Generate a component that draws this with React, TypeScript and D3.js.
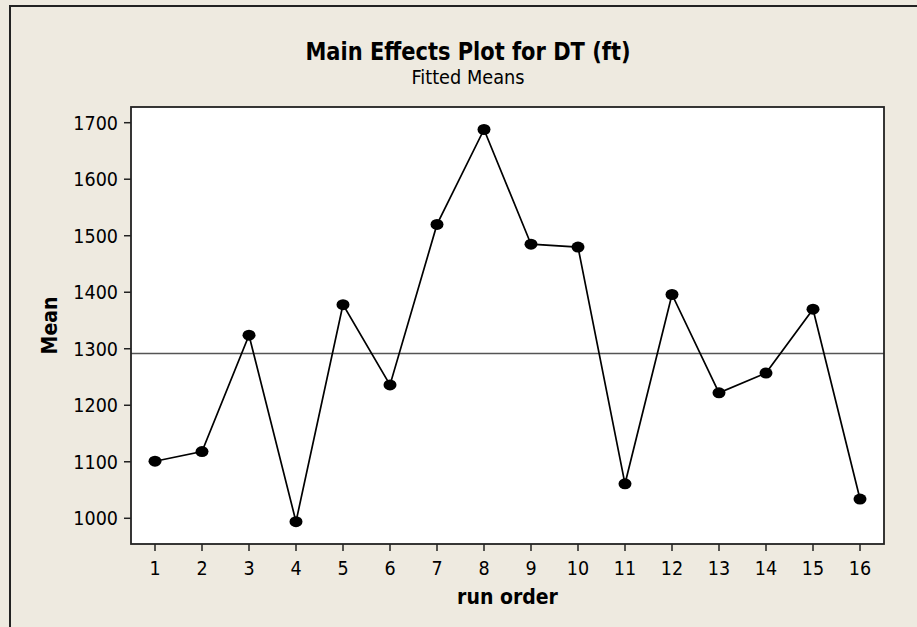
import React from "react";
import * as d3 from "d3";

const runOrder = [1, 2, 3, 4, 5, 6, 7, 8, 9, 10, 11, 12, 13, 14, 15, 16];
const fittedMeans = [1101, 1118, 1324, 994, 1378, 1236, 1520, 1688, 1485, 1480, 1061, 1396, 1222, 1257, 1370, 1034];
const yTicks = [1000, 1100, 1200, 1300, 1400, 1500, 1600, 1700];
const titleText = "Main Effects Plot for DT (ft)";
const subtitleText = "Fitted Means";
const xLabel = "run order";
const yLabel = "Mean";

const W = 917;
const H = 627;
const plot = { left: 131, top: 107, right: 884, bottom: 544 };
const FONT = "'DejaVu Sans Condensed', 'DejaVu Sans', sans-serif";
const BG = "#EEEAE0";

export default function App() {
  const x = d3.scaleLinear().domain([0.5, 16.5]).range([plot.left + 0.5, plot.right - 0.5]);
  const y = d3.scaleLinear().domain([954.5, 1727.8]).range([plot.bottom, plot.top]);
  const overall = d3.mean(fittedMeans) as number;
  const line = d3
    .line<number>()
    .x((_, i) => x(runOrder[i]))
    .y((d) => y(d));

  return (
    <svg
      width={W}
      height={H}
      style={{ position: "absolute", left: 0, top: 0, display: "block" }}
      fontFamily={FONT}
    >
      <rect x={0} y={0} width={W} height={H} fill={BG} />
      <path d={`M10,${H + 5} V6 H${W + 5}`} fill="none" stroke="#222" strokeWidth={2} />
      <text x={468} y={60} textAnchor="middle" fontWeight="bold" fontSize={24} textLength={325} lengthAdjust="spacingAndGlyphs" fill="#000">
        {titleText}
      </text>
      <text x={468} y={84} textAnchor="middle" fontSize={19.5} textLength={113} lengthAdjust="spacingAndGlyphs" fill="#000">
        {subtitleText}
      </text>
      <rect
        x={plot.left}
        y={plot.top}
        width={plot.right - plot.left}
        height={plot.bottom - plot.top}
        fill="#fff"
      />
      <line x1={plot.left} x2={plot.right} y1={y(overall)} y2={y(overall)} stroke="#555" strokeWidth={1.5} />
      <path d={line(fittedMeans) || ""} fill="none" stroke="#000" strokeWidth={1.7} />
      {fittedMeans.map((v, i) => (
        <ellipse key={i} cx={x(runOrder[i])} cy={y(v)} rx={6.5} ry={5.5} fill="#000" />
      ))}
      <rect
        x={plot.left}
        y={plot.top}
        width={plot.right - plot.left}
        height={plot.bottom - plot.top}
        fill="none"
        stroke="#222"
        strokeWidth={1.8}
      />
      {yTicks.map((t) => (
        <g key={t} transform={`translate(0,${y(t)})`}>
          <line x1={plot.left - 7} x2={plot.left} stroke="#222" strokeWidth={1.5} />
          <text x={118} dy="0.36em" textAnchor="end" fontSize={19.5} fill="#000">
            {t}
          </text>
        </g>
      ))}
      {runOrder.map((t) => (
        <g key={t} transform={`translate(${x(t)},0)`}>
          <line y1={plot.bottom} y2={plot.bottom + 7} stroke="#222" strokeWidth={1.5} />
          <text y={575} textAnchor="middle" fontSize={19.5} fill="#000">
            {t}
          </text>
        </g>
      ))}
      <text x={(plot.left + plot.right) / 2} y={604} textAnchor="middle" fontWeight="bold" fontSize={21} fill="#000">
        {xLabel}
      </text>
      <text
        transform={`translate(56.5,${(plot.top + plot.bottom) / 2}) rotate(-90)`}
        textAnchor="middle"
        fontWeight="bold"
        fontSize={21}
        fill="#000"
      >
        {yLabel}
      </text>
    </svg>
  );
}
